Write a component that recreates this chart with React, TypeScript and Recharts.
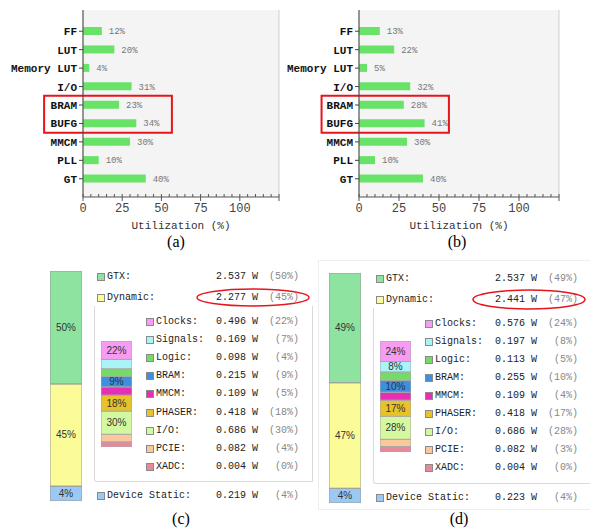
import { BarChart, Bar, XAxis, YAxis, CartesianGrid, LabelList, ReferenceArea } from 'recharts';

// resource utilization, (a) before / (b) after
const resources = ['FF', 'LUT', 'Memory LUT', 'I/O', 'BRAM', 'BUFG', 'MMCM', 'PLL', 'GT'];
const utilA = [12, 20, 4, 31, 23, 34, 30, 10, 40];
const utilB = [13, 22, 5, 32, 28, 41, 30, 10, 40];
const xTicks = [0, 5, 10, 15, 20, 25, 30, 35, 40, 45, 50, 55, 60, 65, 70, 75, 80, 85, 90, 95, 100, 105, 110, 115, 120, 125];
const xLabels = [0, 25, 50, 75, 100];
const gridTicks = [0, 25, 50, 75, 100, 125];

// on-chip power summary, (c) before / (d) after
const topNames = ['GTX', 'Dynamic', 'Device Static'];
const topWattsC = ['2.537', '2.277', '0.219'];
const topPctC = [50, 45, 4];
const topWattsD = ['2.537', '2.441', '0.223'];
const topPctD = [49, 47, 4];

const dynNames = ['Clocks', 'Signals', 'Logic', 'BRAM', 'MMCM', 'PHASER', 'I/O', 'PCIE', 'XADC'];
const dynWattsC = ['0.496', '0.169', '0.098', '0.215', '0.109', '0.418', '0.686', '0.082', '0.004'];
const dynPctC = [22, 7, 4, 9, 5, 18, 30, 4, 0];
const dynWattsD = ['0.576', '0.197', '0.113', '0.255', '0.109', '0.418', '0.686', '0.082', '0.004'];
const dynPctD = [24, 8, 5, 10, 4, 17, 28, 3, 0];

const topColors = ['#8fe3a0', '#fbfb98', '#9cc9f4'];
const dynColors = ['#f79cf2', '#aaf4f7', '#74dc66', '#3d8fe0', '#e72fb6', '#e8c22a', '#d4f8a0', '#fcc79b', '#e8899b'];

const MONO = '"Liberation Mono", "DejaVu Sans Mono", monospace';
const RED = '#e8141c';

const AxisTick = (props: any) => {
  const { x, y, payload } = props;
  const major = payload.value % 25 === 0;
  return (
    <g>
      <line x1={x} x2={x} y1={y - 3} y2={major ? y + 4 : y} stroke="#555" />
      {xLabels.includes(payload.value) && (
        <text x={x} y={y + 15} textAnchor="middle" fontSize={12} fontFamily={MONO} fill="#444">
          {payload.value}
        </text>
      )}
    </g>
  );
};

const CatTick = (props: any) => {
  const { x, y, payload } = props;
  return (
    <text x={x} y={y + 4} textAnchor="end" fontSize={11} fontFamily={MONO} fontWeight="bold" fill="#111" style={{ whiteSpace: 'pre' }}>
      {payload.value}
    </text>
  );
};

function UtilChart({ values, left, axisW, right, box }: any) {
  const data = resources.map((name, i) => ({ name, value: values[i] }));
  return (
    <div style={{ position: 'absolute', left, top: 0 }}>
      <BarChart layout="vertical" width={295} height={240} data={data} margin={{ top: 10, right, left: 0, bottom: 0 }}>
        <CartesianGrid xAxisId="grid" horizontal={false} stroke="#cfcfcf" fill="#f4f4f4" />
        <XAxis xAxisId="grid" orientation="top" type="number" domain={[0, 125]} ticks={gridTicks} height={0} axisLine={false} tickLine={false} tick={false} />
        <XAxis
          type="number"
          domain={[0, 125]}
          ticks={xTicks}
          interval={0}
          height={43}
          tickSize={0}
          tickMargin={0}
          tickLine={false}
          axisLine={{ stroke: '#555' }}
          tick={(p: any) => <AxisTick {...p} />}
          label={{ value: 'Utilization (%)', position: 'insideBottom', offset: 11, fill: '#333', fontSize: 11, fontFamily: MONO }}
        />
        <YAxis
          type="category"
          dataKey="name"
          width={axisW}
          padding={{ top: 12, bottom: 9 }}
          axisLine={{ stroke: '#444' }}
          tickLine={{ stroke: '#444' }}
          tickSize={4}
          tickMargin={2}
          interval={0}
          tick={(p: any) => <CatTick {...p} />}
        />
        <ReferenceArea x1={box[0]} x2={box[1]} y1="BRAM" y2="BUFG" ifOverflow="visible" fill="none" fillOpacity={0} stroke={RED} strokeWidth={2} />
        <Bar dataKey="value" fill="#68e368" barSize={8} isAnimationActive={false}>
          <LabelList dataKey="value" position="right" offset={7} formatter={(v: any) => `${v}%`} fill="#777" fontSize={9} fontFamily={MONO} />
        </Bar>
      </BarChart>
    </div>
  );
}

function StackBar({ values, colors, width, height, pad, stroke }: any) {
  const row: any = { name: 'p' };
  values.forEach((v: number, i: number) => { row['s' + i] = v + pad; });
  const total = values.reduce((a: number, v: number) => a + v + pad, 0);
  const order = values.map((_: number, i: number) => i).reverse();
  return (
    <BarChart width={width} height={height} data={[row]} margin={{ top: 0, right: 0, bottom: 0, left: 0 }} barCategoryGap={0}>
      <XAxis dataKey="name" hide />
      <YAxis hide type="number" domain={[0, total]} />
      {order.map((i: number) => (
        <Bar key={i} dataKey={'s' + i} stackId="a" fill={colors[i]} stroke={stroke} strokeWidth={1} isAnimationActive={false}>
          <LabelList
            dataKey={'s' + i}
            content={(p: any) => {
              const vb = p.viewBox ?? p;
              if (!vb || vb.height < 10) return null;
              return (
                <text x={vb.x + vb.width / 2} y={vb.y + vb.height / 2 + 3.5} textAnchor="middle" fontSize={10} fontFamily='"Liberation Sans", Arial, sans-serif' fill="#333">
                  {values[i]}%
                </text>
              );
            }}
          />
        </Bar>
      ))}
    </BarChart>
  );
}

function Row({ x, valX, pctR, cy, color, name, watts, pct }: any) {
  const txt = { position: 'absolute' as const, top: cy - 7, height: 14, lineHeight: '14px', fontSize: 10, fontFamily: MONO, whiteSpace: 'pre' as const };
  return (
    <>
      <div style={{ position: 'absolute', left: x, top: cy - 4, width: 6, height: 6, background: color, border: '1px solid #8a8a8a' }} />
      <div style={{ ...txt, left: x + 10, color: '#222' }}>{name}:</div>
      <div style={{ ...txt, left: valX, color: '#222' }}>{watts} W</div>
      <div style={{ ...txt, left: pctR - 40, width: 40, textAlign: 'right', color: '#888' }}>({pct}%)</div>
    </>
  );
}

function PowerPanel({ ox, oy, topWatts, topPct, dynWatts, dynPct, innerH, ellipse }: any) {
  const topY = [277, 298, 496];
  return (
    <>
      <div style={{ position: 'absolute', left: 94 + ox, top: 306 + oy, width: 217, height: 175, borderLeft: '1px solid #dadada', borderBottom: '1px solid #dadada', borderRight: '1px solid #dadada', borderBottomLeftRadius: 3 }} />
      <div style={{ position: 'absolute', left: 50 + ox, top: 271 + oy }}>
        <StackBar values={topPct} colors={topColors} width={32} height={230} pad={3} stroke="#9a9a9a" />
      </div>
      <div style={{ position: 'absolute', left: 101 + ox, top: 341 }}>
        <StackBar values={dynPct} colors={dynColors} width={31} height={innerH} pad={8.6} stroke="#a8a8a8" />
      </div>
      {topNames.map((n, i) => (
        <Row key={n} x={97 + ox} valX={216 + ox} pctR={299 + ox} cy={topY[i] + oy} color={topColors[i]} name={n} watts={topWatts[i]} pct={topPct[i]} />
      ))}
      {dynNames.map((n, i) => (
        <Row key={n} x={146 + ox} valX={216 + ox} pctR={299 + ox} cy={322 + oy + i * 18.1} color={dynColors[i]} name={n} watts={dynWatts[i]} pct={dynPct[i]} />
      ))}
      <svg width={590} height={530} style={{ position: 'absolute', left: 0, top: 0, pointerEvents: 'none' }}>
        <ellipse cx={ellipse[0]} cy={ellipse[1]} rx={56} ry={ellipse[2]} fill="none" stroke={RED} strokeWidth={1.5} />
      </svg>
    </>
  );
}

const caption = (text: string, cx: number, cy: number) => (
  <div style={{ position: 'absolute', left: cx - 30, top: cy - 10, width: 60, height: 20, lineHeight: '20px', textAlign: 'center', fontSize: 16, fontFamily: '"Liberation Serif", serif', color: '#000' }}>
    {text}
  </div>
);

export default function App() {
  return (
    <div style={{ position: 'absolute', left: 0, top: 0, width: 590, height: 530, overflow: 'hidden', background: '#fff' }}>
      <UtilChart values={utilA} left={0} axisW={83} right={16} box={[-24.8, 56.7]} />
      <UtilChart values={utilB} left={284} axisW={75} right={20} box={[-23.4, 56.2]} />
      {caption('(a)', 176, 242)}
      {caption('(b)', 457, 242)}

      <div style={{ position: 'absolute', left: 318, top: 260, width: 280, height: 248, border: '1px solid #eeeeee' }} />
      <PowerPanel ox={0} oy={0} topWatts={topWattsC} topPct={topPctC} dynWatts={dynWattsC} dynPct={dynPctC} innerH={106} ellipse={[253, 297.5, 8.5]} />
      <PowerPanel ox={279} oy={1.5} topWatts={topWattsD} topPct={topPctD} dynWatts={dynWattsD} dynPct={dynPctD} innerH={111} ellipse={[529, 299.5, 9.5]} />
      {caption('(c)', 181, 519)}
      {caption('(d)', 459, 519)}
    </div>
  );
}
